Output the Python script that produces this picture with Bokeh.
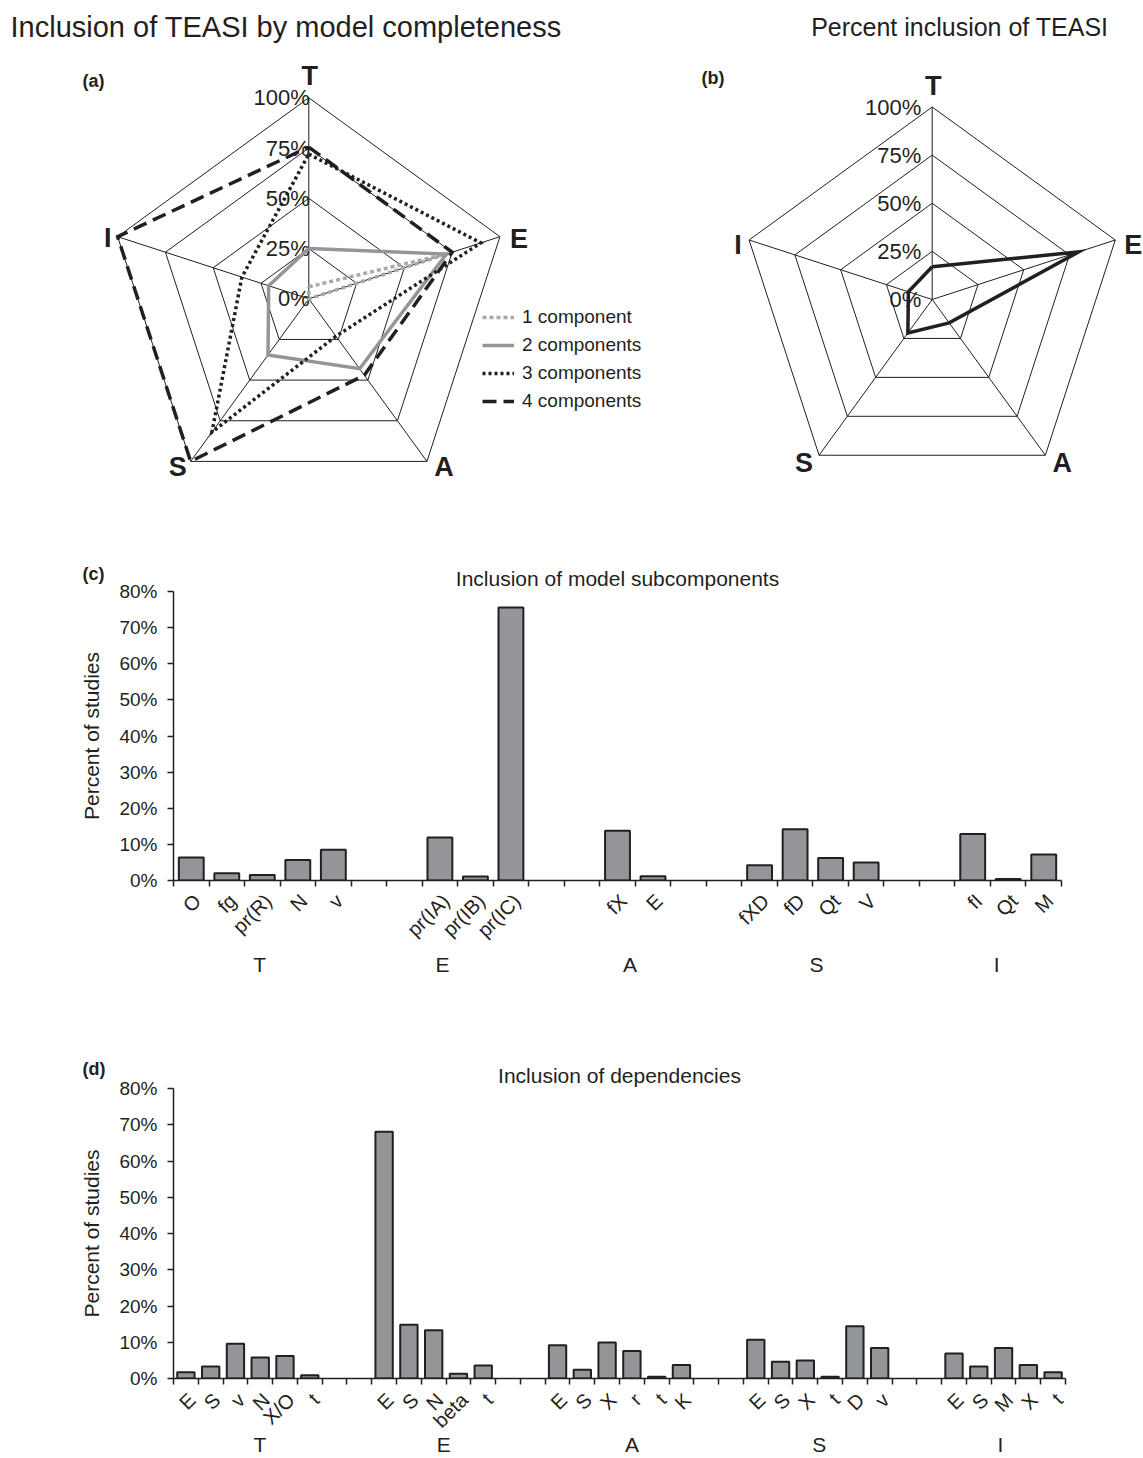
import math
from bokeh.plotting import figure
from bokeh.models import (Range1d, FixedTicker, LinearAxis, Legend, LegendItem,
                          PrintfTickFormatter, CustomJSTickFormatter)
from bokeh.layouts import column, row
from bokeh.embed import file_html
from bokeh.resources import INLINE
from bokeh.core.properties import value

FONT = "Liberation Sans"
INK = "#231f20"
BAR = "#939598"

# ---------------- data ----------------
radar_axes = ["T", "E", "A", "S", "I"]
ring_levels = [0.0, 0.25, 0.5, 0.75, 1.0]
ring_labels = ["0%", "25%", "50%", "75%", "100%"]

series_names = ["1 component", "2 components", "3 components", "4 components"]
comp1 = [0.06, 0.73, 0.0, 0.0, 0.0]
comp2 = [0.25, 0.72, 0.43, 0.345, 0.21]
comp3 = [0.72, 0.90, 0.23, 0.82, 0.35]
comp4 = [0.755, 0.75, 0.47, 1.0, 1.0]
overall = [0.17, 0.80, 0.15, 0.215, 0.13]

groups = ["T", "E", "A", "S", "I"]
c_sub = [["O", "fg", "pr(R)", "N", "v"],
         ["pr(IA)", "pr(IB)", "pr(IC)"],
         ["fX", "E"],
         ["fXD", "fD", "Qt", "V"],
         ["fI", "Qt", "M"]]
c_vals = [[6.4, 2.0, 1.5, 5.7, 8.5],
          [11.9, 1.1, 75.6],
          [13.8, 1.2],
          [4.2, 14.2, 6.2, 5.0],
          [12.9, 0.4, 7.2]]
d_sub = [["E", "S", "v", "N", "X/O", "t"],
         ["E", "S", "N", "beta", "t"],
         ["E", "S", "X", "r", "t", "K"],
         ["E", "S", "X", "t", "D", "v"],
         ["E", "S", "M", "X", "t"]]
d_vals = [[1.7, 3.3, 9.6, 5.8, 6.2, 0.9],
          [68.1, 14.8, 13.3, 1.3, 3.6],
          [9.2, 2.4, 9.9, 7.6, 0.5, 3.7],
          [10.7, 4.6, 5.0, 0.5, 14.4, 8.4],
          [6.9, 3.3, 8.4, 3.7, 1.7]]
y_ticks = [0, 10, 20, 30, 40, 50, 60, 70, 80]

# ---------------- layout constants (page pixels) ----------------
W = 1143
TOP_H = 555
TAG_W = 110
FRAME_LEFT = 173


def canvas_fig(w, y0, h, x0=0):
    p = figure(width=w, height=h, x_range=Range1d(x0, x0 + w), y_range=Range1d(y0 + h, y0),
               output_backend="svg", toolbar_location=None, min_border=0,
               x_axis_location=None, y_axis_location=None)
    p.grid.visible = False
    p.outline_line_color = None
    p.frame_align = False
    return p


# ---------------- radar figure ----------------
top = canvas_fig(W, 0, TOP_H)


def pts(cx, cy, R, vals, close=True):
    xs, ys = [], []
    for k, v in enumerate(vals):
        ang = math.radians(90 - 72 * k)
        xs.append(cx + R * v * math.cos(ang))
        ys.append(cy - R * v * math.sin(ang))
    if close:
        xs.append(xs[0]); ys.append(ys[0])
    return xs, ys


def radar_frame(cx, cy, R, lab_dx, lab_offsets):
    for lv in ring_levels[1:]:
        xs, ys = pts(cx, cy, R, [lv] * 5)
        top.line(xs, ys, line_color=INK, line_width=1)
    vx, vy = pts(cx, cy, R, [1.0] * 5, close=False)
    top.segment(x0=[cx] * 5, y0=[cy] * 5, x1=vx, y1=vy, line_color=INK, line_width=1)
    top.text(x=[cx + lab_dx] * len(ring_levels), y=[cy - R * lv for lv in ring_levels],
             text=ring_labels, text_align="right", text_baseline="middle",
             text_font=value(FONT), text_font_size="22px", text_color=INK)
    top.text(x=[x + o[0] for x, o in zip(vx, lab_offsets)],
             y=[y + o[1] for y, o in zip(vy, lab_offsets)],
             text=radar_axes, text_align="center", text_baseline="middle",
             text_font=value(FONT), text_font_size="27px", text_font_style="bold",
             text_color=INK)


# radar (a)
ACX, ACY, AR = 308.3, 298.3, 201
radar_frame(ACX, ACY, AR, 1, [(1, -22), (19, 2), (17, 6), (-13, 6), (-10, 1)])
styles = [dict(line_color="#a7a9ac", line_dash="4 3"),
          dict(line_color="#939598", line_dash="solid"),
          dict(line_color=INK, line_dash="3 3"),
          dict(line_color=INK, line_dash="14 7")]
rends = []
for vals, st in zip([comp1, comp2, comp3, comp4], styles):
    xs, ys = pts(ACX, ACY, AR, vals)
    rends.append(top.line(xs, ys, line_width=3.5, line_join="miter", **st))

legend = Legend(items=[LegendItem(label=n, renderers=[r]) for n, r in zip(series_names, rends)],
                location=(482, TOP_H - 412), padding=0, margin=0, spacing=6,
                glyph_width=32, glyph_height=20, label_height=20, label_standoff=8,
                label_text_font=FONT, label_text_font_size="19px", label_text_color=INK,
                border_line_color=None, background_fill_alpha=0)
top.add_layout(legend)

# radar (b)
BCX, BCY, BR = 931.7, 299, 192.5
radar_frame(BCX, BCY, BR, -11, [(1, -21), (18, 5), (17, 8), (-15, 8), (-11, 5)])
xs, ys = pts(BCX, BCY, BR, overall)
top.line(xs, ys, line_color=INK, line_width=3.5, line_join="miter")

top.text(x=[10], y=[26], text=["Inclusion of TEASI by model completeness"],
         text_align="left", text_baseline="middle", text_font=value(FONT),
         text_font_size="29px", text_color=INK)
top.text(x=[1108], y=[26], text=["Percent inclusion of TEASI"],
         text_align="right", text_baseline="middle", text_font=value(FONT),
         text_font_size="25px", text_color=INK)
top.text(x=[82, 701], y=[80, 77], text=["(a)", "(b)"], text_align="left",
         text_baseline="middle", text_font=value(FONT), text_font_size="18px",
         text_font_style="bold", text_color=INK)

# ---------------- bar charts ----------------
group_frac = [0.097, 0.303, 0.514, 0.724, 0.927]


def bar_chart(subs, vals, title, tag, y0, height, frame_top, frame_h, frame_w,
              lab_standoff, grp_standoff, tag_y):
    n_slots = sum(len(s) for s in subs) + 2 * (len(subs) - 1)
    slot_px = frame_w / n_slots
    xs, tops, labs = [], [], []
    pos = 0
    for s, v in zip(subs, vals):
        for k, (lab, val) in enumerate(zip(s, v)):
            xs.append(pos + k)
            tops.append(val)
            labs.append(lab)
        pos += len(s) + 2
    bw = W - TAG_W
    left = FRAME_LEFT - TAG_W
    p = figure(width=bw, height=height, x_range=Range1d(-0.5, n_slots - 0.5),
               y_range=Range1d(0, 80), output_backend="svg", toolbar_location=None,
               min_border_left=left, min_border_right=bw - left - frame_w,
               min_border_top=frame_top - y0,
               min_border_bottom=y0 + height - frame_top - frame_h)
    p.frame_align = False
    p.grid.visible = False
    p.outline_line_color = None
    p.vbar(x=xs, top=tops, width=0.7, fill_color=BAR, line_color=INK, line_width=2)

    p.title.text = title
    p.title.align = "center"
    p.title.text_font = FONT
    p.title.text_font_size = "21px"
    p.title.text_font_style = "normal"
    p.title.text_color = INK
    p.title.standoff = 4

    xa = p.xaxis[0]
    xa.ticker = FixedTicker(ticks=[i - 0.5 for i in range(n_slots + 1)])
    xa.formatter = CustomJSTickFormatter(code="return ''")
    xa.major_label_text_font_size = "0px"
    xa.major_label_text_color = None
    xa.major_label_standoff = 0
    xa.major_tick_out = 6
    xa.major_tick_in = 0
    xa.minor_tick_out = 0
    xa.minor_tick_in = 0
    xa.axis_line_color = INK
    xa.axis_line_width = 1.5
    xa.major_tick_line_color = INK
    xa.major_tick_line_width = 1.5

    shift = 6 / slot_px
    la = LinearAxis(ticker=FixedTicker(ticks=[x + shift for x in xs]),
                    formatter=CustomJSTickFormatter(args=dict(labs=labs), code="return labs[index]"),
                    major_label_orientation=math.pi / 4, axis_line_color=None,
                    major_tick_out=0, major_tick_in=0, minor_tick_out=0, minor_tick_in=0,
                    major_label_standoff=lab_standoff, major_label_text_font=FONT,
                    major_label_text_font_size="20px", major_label_text_color=INK)
    p.add_layout(la, "below")

    ga = LinearAxis(ticker=FixedTicker(ticks=[-0.5 + f * n_slots for f in group_frac]),
                    formatter=CustomJSTickFormatter(args=dict(labs=groups), code="return labs[index]"),
                    axis_line_color=None, major_tick_out=0, major_tick_in=0,
                    minor_tick_out=0, minor_tick_in=0, major_label_standoff=grp_standoff,
                    major_label_text_font=FONT, major_label_text_font_size="21px",
                    major_label_text_color=INK)
    p.add_layout(ga, "below")

    ya = p.yaxis[0]
    ya.ticker = FixedTicker(ticks=y_ticks)
    ya.formatter = PrintfTickFormatter(format="%d%%")
    ya.major_label_text_font = FONT
    ya.major_label_text_font_size = "19px"
    ya.major_label_text_color = INK
    ya.major_tick_out = 6
    ya.major_tick_in = 0
    ya.minor_tick_out = 0
    ya.minor_tick_in = 0
    ya.axis_line_color = INK
    ya.axis_line_width = 1.5
    ya.major_tick_line_color = INK
    ya.major_tick_line_width = 1.5
    ya.major_label_standoff = 10

    # left strip: panel tag and y-axis title
    tag_fig = canvas_fig(TAG_W, y0, height)
    tag_fig.text(x=[82], y=[tag_y], text=[tag], text_align="left", text_baseline="middle",
                 text_font=value(FONT), text_font_size="18px", text_font_style="bold",
                 text_color=INK)
    tag_fig.text(x=[91], y=[frame_top + frame_h / 2], text=["Percent of studies"],
                 angle=math.pi / 2, text_align="center", text_baseline="middle",
                 text_font=value(FONT), text_font_size="21px", text_color=INK)
    return row(tag_fig, p, spacing=0)


# chart c: page 555..990, frame 591..880
row_c = bar_chart(c_sub, c_vals, "Inclusion of model subcomponents", "(c)",
                  y0=TOP_H, height=435, frame_top=591, frame_h=289, frame_w=888,
                  lab_standoff=11, grp_standoff=0, tag_y=573)
# chart d: page 990..1458, frame 1088..1378
row_d = bar_chart(d_sub, d_vals, "Inclusion of dependencies", "(d)",
                  y0=990, height=468, frame_top=1088, frame_h=290, frame_w=892,
                  lab_standoff=12, grp_standoff=-10, tag_y=1068)

layout = column(top, row_c, row_d, spacing=0)
open("out.html", "w").write(file_html(layout, INLINE))
